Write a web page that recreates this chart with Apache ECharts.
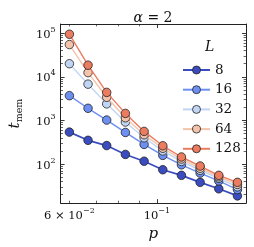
<!DOCTYPE html>
<html><head><meta charset="utf-8">
<script src="https://cdn.jsdelivr.net/npm/echarts@6/dist/echarts.min.js"></script>
<style>html,body{margin:0;padding:0;background:#fff}#c{width:254px;height:247px}</style>
</head><body><div id="c"></div>
<script>
// ---- data ----
var pValues = [0.06, 0.0669, 0.0746, 0.0832, 0.0928, 0.1035, 0.1154, 0.1287, 0.1435, 0.16];
var sizes = ['8', '16', '32', '64', '128'];
var tL8   = [540, 350, 265, 166, 116, 74, 55, 38, 27, 18.6];
var tL16  = [3700, 1900, 1020, 530, 282, 158, 96, 62, 41, 26];
var tL32  = [20000, 6800, 2400, 920, 400, 200, 115, 72, 47, 30];
var tL64  = [55000, 12500, 3400, 1150, 470, 230, 130, 80, 51, 34];
var tL128 = [95000, 18500, 4400, 1450, 560, 262, 145, 90, 55, 38];
var xTickLabels = [0.06, 0.1];
var xMajorTicks = [0.1];
var xMinorTicks = [0.06, 0.07, 0.08, 0.09];
var yTickLabels = [1e2, 1e3, 1e4, 1e5];
var titleText = 'α = 2';
var legendTitle = 'L';

var colors = ['#3b4cc0', '#6c8ff1', '#c2d5f4', '#f3c4ab', '#ec7c60'];
var allT = [tL8, tL16, tL32, tL64, tL128];

var yMinorTicks = [];
for (var e = 1; e <= 4; e++) for (var k = 2; k <= 9; k++) yMinorTicks.push(k * Math.pow(10, e));

var XMIN = 0.05701, XMAX = 0.1682, YMIN = 12.7, YMAX = 163000;
var FONT = 'DejaVu Serif';
var supRich = {
  b: {fontFamily: FONT, fontSize: 11.5, color: '#111', lineHeight: 15, verticalAlign: 'bottom'},
  s: {fontFamily: FONT, fontSize: 8, color: '#111', lineHeight: 15, verticalAlign: 'top'}
};
function powLabel(v) {
  var ex = Math.floor(Math.log10(v) + 1e-9);
  var m = Math.round(v / Math.pow(10, ex));
  var exs = (ex < 0 ? '−' : '') + Math.abs(ex);
  return '{b|' + (m === 1 ? '' : m + ' × ') + '10}{s|' + exs + '}';
}

function xAx(pos, major, showLabel) {
  return {
    type: 'log', position: pos, min: XMIN, max: XMAX,
    axisLine: {show: major, onZero: false, lineStyle: {color: '#222', width: 1}},
    axisTick: {show: true, inside: true, length: major ? 4 : 2.4,
      customValues: major ? xMajorTicks : xMinorTicks,
      lineStyle: {color: '#222', width: major ? 0.9 : 0.7}},
    axisLabel: showLabel ? {show: true, customValues: xTickLabels, formatter: powLabel, rich: supRich, margin: 4} : {show: false},
    splitLine: {show: false}, minorTick: {show: false}
  };
}
function yAx(pos, major, showLabel) {
  return {
    type: 'log', position: pos, min: YMIN, max: YMAX,
    axisLine: {show: major, onZero: false, lineStyle: {color: '#222', width: 1}},
    axisTick: {show: true, inside: true, length: major ? 4 : 2.4,
      customValues: major ? yTickLabels : yMinorTicks,
      lineStyle: {color: '#222', width: major ? 0.9 : 0.7}},
    axisLabel: showLabel ? {show: true, customValues: yTickLabels, formatter: powLabel, rich: supRich, margin: 5} : {show: false},
    splitLine: {show: false}, minorTick: {show: false}
  };
}

var xAxes = [xAx('bottom', true, true), xAx('bottom', false, false), xAx('top', true, false), xAx('top', false, false)];
xAxes[0].name = 'p';
xAxes[0].nameLocation = 'middle';
xAxes[0].nameGap = 17;
xAxes[0].nameTextStyle = {fontFamily: FONT, fontStyle: 'italic', fontSize: 15, color: '#111'};
var yAxes = [yAx('left', true, true), yAx('left', false, false), yAx('right', true, false), yAx('right', false, false)];
yAxes[0].name = '{i|t}{s|mem}';
yAxes[0].nameLocation = 'middle';
yAxes[0].nameGap = 31;
yAxes[0].nameRotate = 90;
yAxes[0].nameTextStyle = {rich: {
  i: {fontFamily: FONT, fontStyle: 'italic', fontSize: 15, color: '#111', lineHeight: 17, verticalAlign: 'top'},
  s: {fontFamily: FONT, fontSize: 9.5, color: '#111', lineHeight: 17, verticalAlign: 'bottom'}
}};

var series = sizes.map(function (name, i) {
  return {
    name: name, type: 'line', xAxisIndex: 0, yAxisIndex: 0,
    data: pValues.map(function (p, j) { return [p, allT[i][j]]; }),
    symbol: 'circle', symbolSize: 8.5,
    itemStyle: {color: colors[i], borderColor: '#222', borderWidth: 0.8},
    lineStyle: {color: colors[i], width: i === 0 ? 1.7 : 1.4},
    emphasis: {disabled: true}, animation: false, z: 2 + i
  };
});

var chart = echarts.init(document.getElementById('c'), null, {renderer: 'canvas'});
chart.setOption({
  animation: false,
  backgroundColor: '#fff',
  title: [
    {text: '{i|α} = 2', left: 148, textAlign: 'center', top: 6,
     textStyle: {fontFamily: FONT, fontSize: 14, fontWeight: 'normal', color: '#111',
       rich: {i: {fontFamily: FONT, fontStyle: 'italic', fontSize: 14, color: '#111'}}}},
    {text: legendTitle, left: 200, top: 35,
     textStyle: {fontFamily: FONT, fontStyle: 'italic', fontSize: 14, fontWeight: 'normal', color: '#111'}}
  ],
  grid: {left: 50, right: 8, top: 24, bottom: 43, containLabel: false},
  legend: {
    orient: 'vertical', left: 177, top: 58, itemWidth: 27, itemHeight: 10, itemGap: 5.7,
    data: sizes, textStyle: {fontFamily: FONT, fontSize: 13.5, color: '#111', lineHeight: 14},
    itemStyle: {borderColor: '#222', borderWidth: 0.8},
    selectedMode: false
  },
  xAxis: xAxes,
  yAxis: yAxes,
  series: series
});
</script>
</body></html>
